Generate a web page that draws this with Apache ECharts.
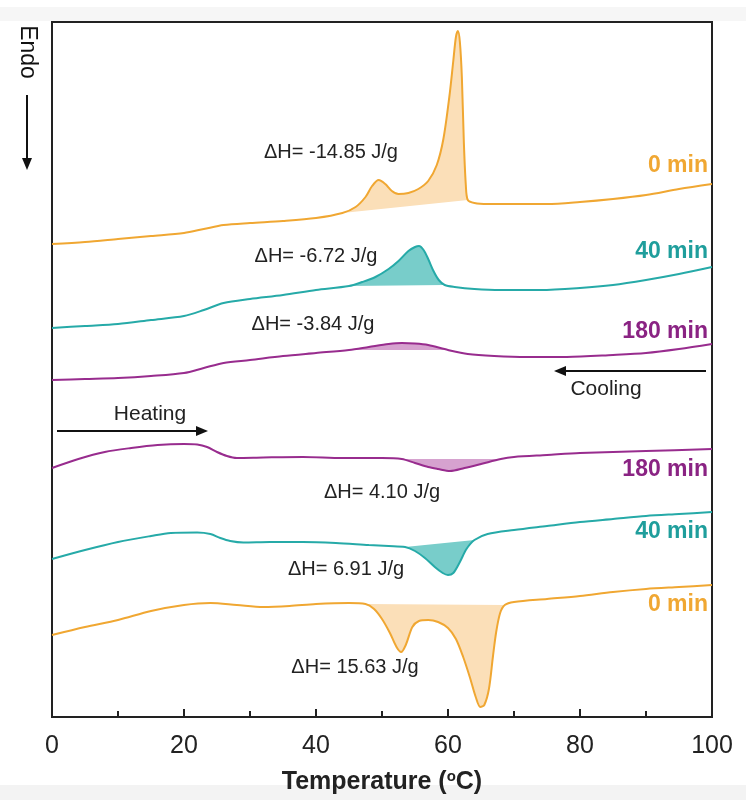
<!DOCTYPE html>
<html>
<head>
<meta charset="utf-8">
<script src="https://cdn.jsdelivr.net/npm/echarts@6.0.0/dist/echarts.min.js"></script>
<style>
  html, body { margin: 0; padding: 0; background: #fff; }
  #chart { width: 746px; height: 800px; }
</style>
</head>
<body>
<div id="chart"></div>
<script>
// DSC curves, x = temperature (°C), y = heat flow (arbitrary units, endo down)

// --- Data ---

const xTicks = [0, 20, 40, 60, 80, 100];

// cooling runs
const cool0 = [[0,473],[5,475],[10,478],[15,481],[20,484],[23,488],[26,492],[30,494],[35,496],[40,499],[44,504],[46,510],[47.5,520],[48.5,531],[49.5,537],[50.5,533],[51.5,526],[52.5,523],[54,524],[55.5,528],[57,536],[58.3,552],[59.3,578],[60.2,620],[60.8,656],[61.2,680],[61.5,686],[61.8,675],[62.1,640],[62.4,575],[62.7,532],[63,517],[64,514],[66,513],[70,513],[75,513],[80,515],[85,518],[90,522],[95,528],[100,533]];
const cool40 = [[0,389],[5,391],[10,393],[15,397],[20,401],[23,407],[26,414],[30,418],[35,422],[40,427],[45,431],[47,435],[49,440],[51,448],[52.5,456],[54,466],[55,470],[55.6,471],[56.3,467],[57,458],[57.8,446],[58.6,437],[59.5,432],[61,430],[64,428],[68,427],[74,427],[80,429],[85,432],[90,437],[95,443],[100,450]];
const cool180 = [[0,337],[5,338],[10,339],[15,341],[20,344],[23,349],[26,354],[30,357],[35,361],[40,364],[45,367],[48,370],[51,373],[53,374],[55,373.5],[57,372],[60,367],[63,363],[67,361],[72,360],[78,360],[85,362],[90,364],[95,368],[100,373]];

// heating runs
const heat180 = [[0,249],[4,258],[8,265],[12,269],[16,272],[20,273],[22,272.5],[23.5,270],[25,265],[26.5,261],[28,259],[32,259.5],[38,260],[44,259],[50,259],[53,258],[55,254],[57,250],[58.5,248],[60.3,246],[62.5,249],[65,253],[68,258],[70,260],[75,262],[80,264],[90,266],[100,268]];
const heat40 = [[0,158],[5,167],[10,175],[15,181],[18,184],[22,184.5],[24,183],[25.5,179],[27,176],[29,174.5],[33,175],[38,175],[43,174],[48,172],[51,171],[53.5,170],[55,166],[56.5,159],[58,150],[59.2,144],[60,142],[60.8,144],[61.8,155],[62.8,168],[64,177],[66,183],[70,187],[75,191],[80,195],[85,198],[90,201],[95,203],[100,205]];
const heat0 = [[0,82],[5,90],[10,97],[15,106],[20,112],[24,114],[28,112],[32,110],[36,111],[40,113],[45,114],[47.5,113],[48.8,108],[50,98],[51.2,84],[52.2,70],[52.9,65],[53.6,72],[54.6,90],[55.6,96],[57,97],[58.5,95],[60,89],[61.2,78],[62.3,60],[63.3,40],[64.2,20],[64.9,10],[65.5,12],[66.2,28],[66.8,60],[67.3,85],[67.9,104],[68.6,112],[70,115],[75,118],[80,121],[85,125],[90,128],[95,130],[100,132]];

// integrated peak ranges [start T, end T]
const fillCool0 = [44, 63];
const fillCool40 = [45, 59.5];
const fillCool180 = [45, 60];
const fillHeat180 = [53, 68];
const fillHeat40 = [53.5, 64];
const fillHeat0 = [47.5, 68.6];

// --- Style ---

const ORANGE = '#f0a732', TEAL = '#26aaa8', PURPLE = '#982c8e';
const ORANGE_FILL = '#fbdfb8', TEAL_FILL = '#78cdca', PURPLE_FILL = '#d6a2cf';

const lineSeries = (data, color) => ({
    type: 'line', data: data, smooth: 0.3, showSymbol: false, z: 3,
    lineStyle: { color: color, width: 2 }, silent: true
});

const fillSeries = (curve, range, color) => ({
    type: 'custom', z: 1, silent: true,
    data: [range],
    renderItem: (params, api) => {
        const pts = curve.filter(p => p[0] >= range[0] && p[0] <= range[1]).map(p => api.coord(p));
        return { type: 'polygon', shape: { points: pts }, style: { fill: color } };
    }
});

const txt = (x, y, text, opts) => Object.assign({
    type: 'text', x: x, y: y,
    style: Object.assign({ text: text, fill: '#222', font: '20px "Liberation Sans", Arial, sans-serif', align: 'center', verticalAlign: 'middle' }, opts || {})
});

const minLabel = (y, text, color) => txt(708, y, text, { fill: color, font: 'bold 23px "Liberation Sans", Arial, sans-serif', align: 'right' });

const arrow = (x1, y1, x2, y2) => {
    const dx = x2 - x1, dy = y2 - y1, len = Math.hypot(dx, dy), ux = dx / len, uy = dy / len;
    const hx = x2 - ux * 12, hy = y2 - uy * 12;
    return [
        { type: 'line', shape: { x1: x1, y1: y1, x2: hx + ux * 2, y2: hy + uy * 2 }, style: { stroke: '#111', lineWidth: 2 } },
        { type: 'polygon', shape: { points: [[x2, y2], [hx - uy * 5, hy + ux * 5], [hx + uy * 5, hy - ux * 5]] }, style: { fill: '#111' } }
    ];
};

const chart = echarts.init(document.getElementById('chart'));
chart.setOption({
    animation: false,
    backgroundColor: '#fff',
    grid: { left: 52, right: 34, top: 22, bottom: 83, show: true, borderColor: '#222', borderWidth: 2 },
    xAxis: {
        type: 'value', min: 0, max: 100, interval: 20,
        name: 'Temperature ({sup|o}C)', nameLocation: 'middle', nameGap: 52,
        nameTextStyle: {
            fontSize: 25, fontWeight: 'bold', color: '#222', fontFamily: 'Liberation Sans',
            rich: { sup: { fontSize: 15, fontWeight: 'bold', color: '#222', verticalAlign: 'top', padding: [0, 0, 12, 0] } }
        },
        axisLine: { lineStyle: { color: '#222', width: 2 } },
        axisTick: { inside: true, length: 8, lineStyle: { color: '#222', width: 2 } },
        minorTick: { show: true, splitNumber: 2, length: 6, lineStyle: { color: '#222', width: 2 } },
        axisLabel: { fontSize: 25, color: '#222', margin: 17, fontFamily: 'Liberation Sans',
            formatter: v => xTicks.includes(v) ? String(v) : '' },
        splitLine: { show: false }
    },
    yAxis: {
        type: 'value', min: 0, max: 695,
        axisLine: { show: true, lineStyle: { color: '#222', width: 2 } },
        axisTick: { show: false }, axisLabel: { show: false }, splitLine: { show: false }
    },
    series: [
        fillSeries(cool0, fillCool0, ORANGE_FILL),
        fillSeries(cool40, fillCool40, TEAL_FILL),
        fillSeries(cool180, fillCool180, PURPLE_FILL),
        fillSeries(heat180, fillHeat180, PURPLE_FILL),
        fillSeries(heat40, fillHeat40, TEAL_FILL),
        fillSeries(heat0, fillHeat0, ORANGE_FILL),
        lineSeries(cool0, ORANGE),
        lineSeries(cool40, TEAL),
        lineSeries(cool180, PURPLE),
        lineSeries(heat180, PURPLE),
        lineSeries(heat40, TEAL),
        lineSeries(heat0, ORANGE)
    ],
    graphic: [
        { type: 'rect', z: -10, shape: { x: 0, y: 7, width: 746, height: 14 }, style: { fill: '#f6f6f6' } },
        { type: 'rect', z: -10, shape: { x: 0, y: 785, width: 746, height: 15 }, style: { fill: '#f3f3f3' } },
        txt(27, 52, 'Endo', { font: '23px "Liberation Sans", Arial, sans-serif', fill: '#111' }),
        ...arrow(27, 95, 27, 170),
        txt(331, 152, 'ΔH= -14.85 J/g'),
        txt(316, 256, 'ΔH= -6.72 J/g'),
        txt(313, 324, 'ΔH= -3.84 J/g'),
        txt(382, 492, 'ΔH= 4.10 J/g'),
        txt(346, 569, 'ΔH= 6.91 J/g'),
        txt(355, 667, 'ΔH= 15.63 J/g'),
        minLabel(166, '0 min', ORANGE),
        minLabel(252, '40 min', '#1f9e9c'),
        minLabel(332, '180 min', '#8a2383'),
        minLabel(470, '180 min', '#8a2383'),
        minLabel(532, '40 min', '#1f9e9c'),
        minLabel(605, '0 min', ORANGE),
        txt(606, 389, 'Cooling', { font: '21px "Liberation Sans", Arial, sans-serif' }),
        ...arrow(706, 371, 554, 371),
        txt(150, 414, 'Heating', { font: '21px "Liberation Sans", Arial, sans-serif' }),
        ...arrow(57, 431, 208, 431)
    ]
});
// rotate the Endo label to read top-to-bottom
const opt = chart.getOption();
opt.graphic[0].elements[2].rotation = -Math.PI / 2;
chart.setOption({ graphic: opt.graphic });
</script>
</body>
</html>
